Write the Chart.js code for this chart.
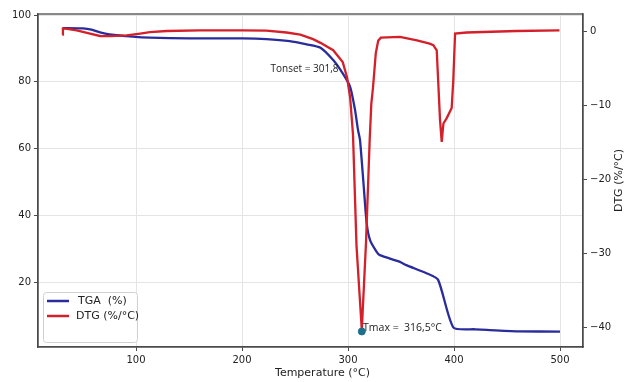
<!DOCTYPE html>
<html>
<head>
<meta charset="utf-8">
<script src="https://cdn.jsdelivr.net/npm/chart.js@4.4.1/dist/chart.umd.min.js"></script>
<style>
html, body { margin: 0; padding: 0; background: #fff; }
#wrap { width: 629px; height: 382px; }
</style>
</head>
<body>
<div id="wrap"><canvas id="tgaChart" width="629" height="382"></canvas></div>
<script>
// TGA curve (left axis, %)
const tgaTemp = [31, 50, 58, 66, 75, 97, 113, 150, 200, 223, 245, 261, 274, 286, 295, 302, 306.6, 309.4, 311.3, 314.5, 317.6, 320.8, 327, 330, 349, 355, 374, 385, 399.5, 420, 431, 460, 500];
const tgaValues = [96.1, 96.0, 95.6, 94.8, 94.2, 93.5, 93.2, 93.0, 93.0, 92.8, 92.2, 91.2, 90.2, 86.5, 82.5, 78.5, 71.6, 65.6, 62.6, 50.0, 37.7, 32.6, 29.1, 28.1, 26.1, 25.1, 22.7, 20.7, 6.4, 5.9, 5.7, 5.3, 5.2];

// DTG curve (right axis, %/°C)
const dtgTemp = [30.5, 31, 35, 44, 56.6, 66, 76, 91, 104, 113, 129, 160, 200, 223, 242, 255, 267, 274, 286, 295, 299, 302, 304.7, 308, 313, 317, 320.5, 322, 323.6, 326.2, 328.5, 331, 349, 365, 377, 380.5, 383.7, 386.8, 388.4, 390, 393, 397.8, 399.3, 401, 412, 459, 499.5];
const dtgValues = [-0.5, 0.35, 0.3, 0.1, -0.35, -0.67, -0.7, -0.6, -0.35, -0.15, 0.0, 0.1, 0.1, 0.05, -0.2, -0.5, -1.1, -1.6, -2.6, -4.2, -6.2, -9.0, -14.0, -29.0, -40.4, -28.5, -14.5, -9.8, -7.6, -3.0, -1.3, -0.9, -0.8, -1.25, -1.7, -1.9, -2.6, -12.0, -15.0, -12.5, -11.8, -10.4, -6.7, -0.35, -0.2, 0.0, 0.1];

// Tmax marker
const peakTemp = [313];
const peakDtg = [-40.6];

// ticks
const xTicks = [100, 200, 300, 400, 500];
const leftTicks = [20, 40, 60, 80, 100];
const rightTicks = [0, -10, -20, -30, -40];

const seriesLabels = ['TGA  (%)', 'DTG (%/°C)'];
const onsetLabel = 'Tonset = 301,8';
const peakLabel = 'Tmax =  316,5°C';

const blue = '#2a2c9c';
const red = '#d3202a';
const spine = '#4a4a4a';
const gridColor = '#e4e4e4';
const textColor = '#222';
const tickFont = { family: 'DejaVu Sans', size: 10 };

const toPoints = (xs, ys) => xs.map((x, i) => ({ x: x, y: ys[i] }));

const overlayPlugin = {
    id: 'overlay',
    afterDraw(chart) {
        const { ctx, chartArea: a, scales } = chart;
        ctx.save();

        // full frame (top spine included)
        ctx.strokeStyle = spine;
        ctx.lineWidth = 1.3;
        ctx.strokeRect(a.left, a.top, a.right - a.left, a.bottom - a.top);

        // annotations
        ctx.fillStyle = '#222';
        ctx.font = '10px "Open Sans"';
        ctx.textBaseline = 'middle';
        ctx.textAlign = 'center';
        ctx.fillText(onsetLabel, scales.x.getPixelForValue(259), scales.y.getPixelForValue(83.8));
        ctx.textAlign = 'left';
        ctx.font = '10.5px "Open Sans"';
        ctx.fillText(peakLabel, scales.x.getPixelForValue(314.2), scales.y1.getPixelForValue(-40.1));

        // legend box
        const lx = a.left + 5, ly = a.bottom - 55, lw = 94, lh = 50;
        ctx.fillStyle = 'rgba(255,255,255,0.9)';
        ctx.strokeStyle = '#d0d0d0';
        ctx.lineWidth = 1;
        ctx.beginPath();
        ctx.roundRect(lx + 0.5, ly + 0.5, lw, lh, 3);
        ctx.fill();
        ctx.stroke();
        const colors = [blue, red];
        ctx.font = '11px "DejaVu Sans"';
        ctx.textAlign = 'left';
        seriesLabels.forEach((lab, i) => {
            const yy = ly + 9 + i * 15;
            ctx.strokeStyle = colors[i];
            ctx.lineWidth = 2.5;
            ctx.beginPath();
            ctx.moveTo(lx + 4, yy);
            ctx.lineTo(lx + 26, yy);
            ctx.stroke();
            ctx.fillStyle = textColor;
            ctx.fillText(lab, lx + (i === 0 ? 35 : 33), yy);
        });

        // axis titles
        ctx.fillStyle = textColor;
        ctx.font = '11px "DejaVu Sans"';
        ctx.textAlign = 'center';
        ctx.fillText('Temperature (°C)', (a.left + a.right) / 2 + 12, a.bottom + 26);
        ctx.translate(a.right + 36, (a.top + a.bottom) / 2);
        ctx.rotate(-Math.PI / 2);
        ctx.fillText('DTG (%/°C)', 0, 0);

        ctx.restore();
    }
};

new Chart(document.getElementById('tgaChart'), {
    type: 'line',
    data: {
        datasets: [
            {
                label: 'Tmax',
                data: toPoints(peakTemp, peakDtg),
                yAxisID: 'y1',
                showLine: false,
                pointRadius: 3.5,
                pointBackgroundColor: '#1d6f8c',
                pointBorderColor: '#1d6f8c',
                order: 0
            },
            {
                label: seriesLabels[1],
                data: toPoints(dtgTemp, dtgValues),
                yAxisID: 'y1',
                borderColor: red,
                borderWidth: 2.3,
                pointRadius: 0,
                tension: 0,
                order: 1
            },
            {
                label: seriesLabels[0],
                data: toPoints(tgaTemp, tgaValues),
                yAxisID: 'y',
                borderColor: blue,
                borderWidth: 2.3,
                pointRadius: 0,
                tension: 0.2,
                order: 2
            }
        ]
    },
    options: {
        responsive: false,
        animation: false,
        devicePixelRatio: 1,
        layout: { padding: { top: 14, left: 0, right: 0, bottom: 0 } },
        plugins: {
            legend: { display: false },
            tooltip: { enabled: false }
        },
        scales: {
            x: {
                type: 'linear',
                min: 7.5,
                max: 521.7,
                afterBuildTicks: s => { s.ticks = xTicks.map(v => ({ value: v })); },
                afterFit: s => { s.height = 35; },
                grid: { color: gridColor, tickColor: spine, tickLength: 4 },
                border: { color: spine, width: 1.3 },
                ticks: { color: textColor, font: tickFont, padding: 3, maxRotation: 0 }
            },
            y: {
                position: 'left',
                min: 0.6,
                max: 100.3,
                afterBuildTicks: s => { s.ticks = leftTicks.map(v => ({ value: v })); },
                afterFit: s => { s.width = 38; },
                grid: { color: gridColor, tickColor: spine, tickLength: 4 },
                border: { color: spine, width: 1.3 },
                ticks: { color: textColor, font: tickFont, padding: 3 }
            },
            y1: {
                position: 'right',
                min: -42.7,
                max: 2.3,
                afterBuildTicks: s => { s.ticks = rightTicks.map(v => ({ value: v })); },
                afterFit: s => { s.width = 46; },
                grid: { drawOnChartArea: false, color: spine, tickColor: spine, tickLength: 4 },
                border: { color: spine, width: 1.3 },
                ticks: {
                    color: textColor,
                    font: tickFont,
                    padding: 3,
                    callback: v => (v < 0 ? '\u2212' + Math.abs(v) : String(v))
                }
            }
        }
    },
    plugins: [overlayPlugin]
});
</script>
</body>
</html>
